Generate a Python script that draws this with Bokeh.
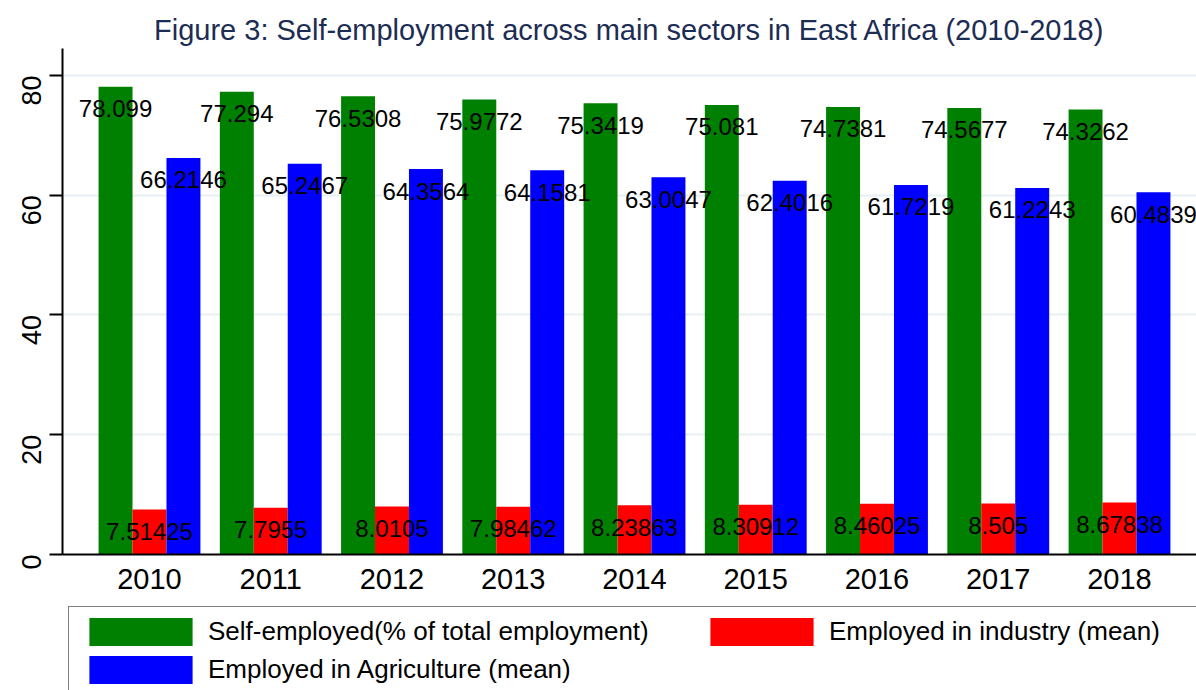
import math
from bokeh.plotting import figure
from bokeh.layouts import column
from bokeh.models import (ColumnDataSource, Range1d, FixedTicker, Legend, LegendItem)
from bokeh.transform import dodge
from bokeh.core.properties import value
from bokeh.embed import file_html
from bokeh.resources import INLINE

years = ["2010", "2011", "2012", "2013", "2014", "2015", "2016", "2017", "2018"]
self_employed = [78.099, 77.294, 76.5308, 75.9772, 75.3419, 75.081, 74.7381, 74.5677, 74.3262]
industry = [7.51425, 7.7955, 8.0105, 7.98462, 8.23863, 8.30912, 8.46025, 8.505, 8.67838]
agriculture = [66.2146, 65.2467, 64.3564, 64.1581, 63.0047, 62.4016, 61.7219, 61.2243, 60.4839]
y_ticks = [0, 20, 40, 60, 80]
series_labels = ["Self-employed(% of total employment)",
                 "Employed in industry (mean)",
                 "Employed in Agriculture (mean)"]

FONT = "Liberation Sans"
BW = 0.28
W = 1196
GREEN, RED, BLUE = "#008000", "#ff0000", "#0000ff"

src = ColumnDataSource(dict(
    idx=list(range(len(years))),
    selfemp=self_employed,
    ind=industry,
    agr=agriculture,
    selfemp_lbl=[str(v) for v in self_employed],
    ind_lbl=[str(v) for v in industry],
    agr_lbl=[str(v) for v in agriculture],
))

p = figure(width=W, height=604,
           x_range=Range1d(-0.7175, 8.635), y_range=Range1d(0, 84.5),
           output_backend="svg", toolbar_location=None,
           min_border_left=62, min_border_right=0,
           min_border_top=48, min_border_bottom=50)

p.title.text = "Figure 3: Self-employment across main sectors in East Africa (2010-2018)"
p.title.align = "center"
p.title.text_font = FONT
p.title.text_font_size = "29px"
p.title.text_font_style = "normal"
p.title.text_color = "#1c2d54"
p.title.standoff = 5

p.outline_line_color = None
p.background_fill_color = "white"

r_green = p.vbar(x=dodge("idx", -BW, range=p.x_range), top="selfemp", width=BW,
                 source=src, fill_color=GREEN, line_color=None)
r_red = p.vbar(x=dodge("idx", 0, range=p.x_range), top="ind", width=BW,
               source=src, fill_color=RED, line_color=None)
r_blue = p.vbar(x=dodge("idx", BW, range=p.x_range), top="agr", width=BW,
                source=src, fill_color=BLUE, line_color=None)

for col, off in (("selfemp", -BW), ("ind", 0), ("agr", BW)):
    p.text(x=dodge("idx", off, range=p.x_range), y=col, text=col + "_lbl", source=src,
           text_align="center", text_baseline="middle", y_offset=22,
           text_font=value(FONT), text_font_size="24px", text_color="black")

# axes
p.xaxis.ticker = FixedTicker(ticks=list(range(len(years))))
p.xaxis.major_label_overrides = {i: y for i, y in enumerate(years)}
p.xaxis.major_tick_out = 0
p.xaxis.major_tick_in = 0
p.xaxis.minor_tick_out = 0
p.xaxis.minor_tick_in = 0
p.xaxis.axis_line_width = 2
p.xaxis.axis_line_color = "black"
p.xaxis.major_label_text_font = FONT
p.xaxis.major_label_text_font_size = "29px"
p.xaxis.major_label_text_color = "black"
p.xaxis.major_label_standoff = 14

p.yaxis.ticker = FixedTicker(ticks=y_ticks)
p.yaxis.major_label_orientation = math.pi / 2
p.yaxis.major_tick_out = 13
p.yaxis.major_tick_in = 0
p.yaxis.minor_tick_out = 0
p.yaxis.minor_tick_in = 0
p.yaxis.major_tick_line_width = 2
p.yaxis.axis_line_width = 2
p.yaxis.axis_line_color = "black"
p.yaxis.major_label_text_font = FONT
p.yaxis.major_label_text_font_size = "27px"
p.yaxis.major_label_text_color = "black"
p.yaxis.major_label_standoff = 18

p.xgrid.grid_line_color = None
p.ygrid.grid_line_color = "#e8f0f3"
p.ygrid.grid_line_width = 2

# legend panel (separate canvas below the chart)
lg = figure(width=W, height=86, x_range=Range1d(0, 1), y_range=Range1d(1000, 1001),
            output_backend="svg", toolbar_location=None,
            x_axis_location=None, y_axis_location=None,
            min_border=0, min_border_left=0, min_border_right=0,
            min_border_top=0, min_border_bottom=0)
lg.outline_line_color = None
lg.grid.grid_line_color = None
lr_green = lg.vbar(x="idx", top="selfemp", width=BW, source=src, fill_color=GREEN, line_color=None)
lr_red = lg.vbar(x="idx", top="ind", width=BW, source=src, fill_color=RED, line_color=None)
lr_blue = lg.vbar(x="idx", top="agr", width=BW, source=src, fill_color=BLUE, line_color=None)

legend = Legend(items=[
    LegendItem(label=series_labels[0], renderers=[lr_green]),
    LegendItem(label=series_labels[1], renderers=[lr_red]),
    LegendItem(label=series_labels[2], renderers=[lr_blue]),
], location=(6, -5), orientation="horizontal", ncols=2,
    glyph_width=129, glyph_height=35, label_standoff=3, spacing=3,
    padding=7, margin=0, label_width=486, label_height=28,
    label_text_font=FONT, label_text_font_size="26px", label_text_color="black",
    border_line_color="black", border_line_width=1.5,
    background_fill_color="white", background_fill_alpha=1.0)
lg.add_layout(legend)

layout = column(p, lg, spacing=0)
open("out.html", "w").write(file_html(layout, INLINE))
